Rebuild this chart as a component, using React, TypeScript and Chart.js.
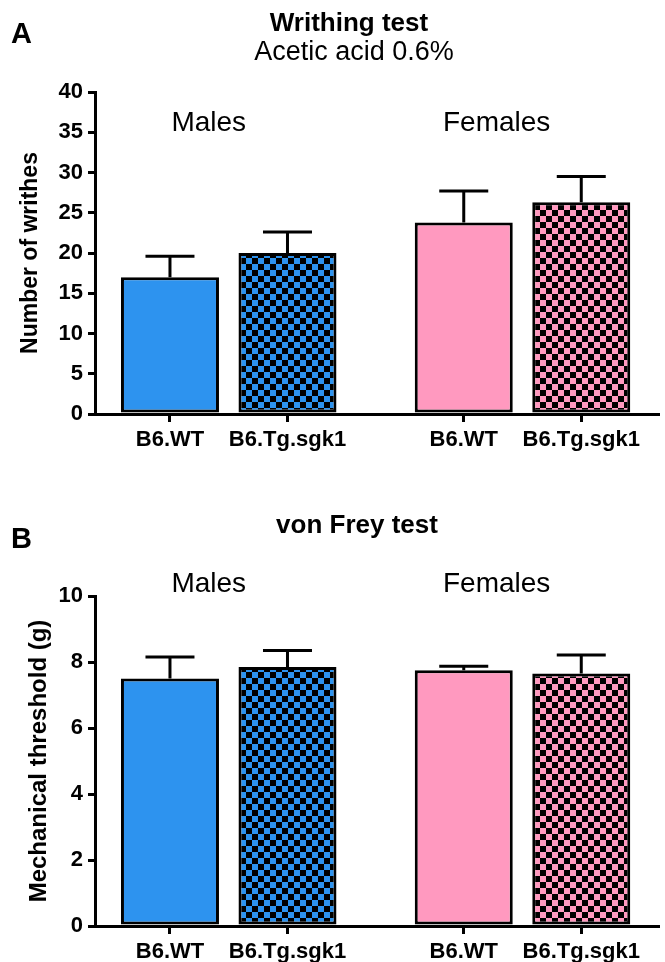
import React, { useEffect, useRef } from "react";
import { Chart, registerables } from "chart.js";

Chart.register(...registerables);

// ---------- data ----------
const categories = ["B6.WT", "B6.Tg.sgk1", "B6.WT", "B6.Tg.sgk1"];
const categoryX = [0, 1, 2.5, 3.5];
const groupLabels = ["Males", "Females"];
const groupLabelX = [0.33, 2.78];

const writhingMeans = [17.0, 20.0, 23.8, 26.3];
const writhingSem = [2.6, 2.6, 3.9, 3.2];
const writhingTicks = [0, 5, 10, 15, 20, 25, 30, 35, 40];

const vonFreyMeans = [7.5, 7.85, 7.75, 7.65];
const vonFreySem = [0.65, 0.5, 0.12, 0.56];
const vonFreyTicks = [0, 2, 4, 6, 8, 10];

const barColors = ["#2d93ef", "#2d93ef", "#ff99bf", "#ff99bf"];
const checkered = [false, true, false, true];

const FONT = "'Liberation Sans', Arial, Helvetica, sans-serif";

function makePattern(color: string) {
  const c = document.createElement("canvas");
  c.width = 12;
  c.height = 12;
  const g = c.getContext("2d")!;
  g.fillStyle = "#000";
  g.fillRect(0, 0, 12, 12);
  g.fillStyle = color;
  g.fillRect(0, 0, 6, 6);
  g.fillRect(6, 6, 6, 6);
  return g.createPattern(c, "repeat")!;
}

type PanelProps = {
  height: number;
  areaTop: number;
  areaBottom: number;
  means: number[];
  sem: number[];
  ticks: number[];
  yTitle: string;
  yTitleSize: number;
  yTitlePad: number;
  letter: string;
  letterBaseline: number;
  title: string;
  titleX: number;
  titleBaseline: number;
  subtitle?: string;
  subtitleBaseline?: number;
  groupBaseline: number;
};

function Panel(p: PanelProps) {
  const ref = useRef<HTMLCanvasElement | null>(null);
  useEffect(() => {
    const canvas = ref.current!;
    const bg = barColors.map((c, i) => (checkered[i] ? makePattern(c) : c));
    const xMin = -0.638;
    const xMax = 4.153;
    const yMax = p.ticks[p.ticks.length - 1];

    const errorBars = {
      id: "errorBars",
      afterDatasetsDraw(chart: any) {
        const ctx = chart.ctx;
        const y = chart.scales.y;
        const meta = chart.getDatasetMeta(0);
        ctx.save();
        ctx.strokeStyle = "#000";
        ctx.lineWidth = 3;
        meta.data.forEach((bar: any, i: number) => {
          const top = y.getPixelForValue(p.means[i] + p.sem[i]);
          ctx.beginPath();
          ctx.moveTo(bar.x, bar.y);
          ctx.lineTo(bar.x, top);
          ctx.moveTo(bar.x - 24.5, top);
          ctx.lineTo(bar.x + 24.5, top);
          ctx.stroke();
        });
        ctx.restore();
      },
    };

    const decor = {
      id: "decor",
      afterDraw(chart: any) {
        const ctx = chart.ctx;
        const x = chart.scales.x;
        ctx.save();
        ctx.fillStyle = "#000";
        ctx.textBaseline = "alphabetic";
        ctx.textAlign = "left";
        ctx.font = `bold 29px ${FONT}`;
        ctx.fillText(p.letter, 11, p.letterBaseline);
        ctx.textAlign = "center";
        ctx.font = `bold 26px ${FONT}`;
        ctx.fillText(p.title, p.titleX, p.titleBaseline);
        if (p.subtitle) {
          ctx.font = `27px ${FONT}`;
          ctx.fillText(p.subtitle, p.titleX + 5, p.subtitleBaseline!);
        }
        ctx.font = `28px ${FONT}`;
        groupLabels.forEach((g, i) => {
          ctx.fillText(g, x.getPixelForValue(groupLabelX[i]), p.groupBaseline);
        });
        ctx.restore();
      },
    };

    const chart = new Chart(canvas, {
      type: "bar",
      data: {
        datasets: [
          {
            data: categoryX.map((cx, i) => ({ x: cx, y: p.means[i] })),
            backgroundColor: bg as any,
            borderColor: "#000",
            borderWidth: 3,
            borderSkipped: false,
            categoryPercentage: 1,
            barPercentage: 0.834,
          } as any,
        ],
      },
      options: {
        responsive: false,
        animation: false,
        devicePixelRatio: 1,
        layout: { padding: { top: p.areaTop, right: 7, left: 0, bottom: 0 } },
        plugins: {
          legend: { display: false },
          tooltip: { enabled: false },
          title: { display: false },
        },
        scales: {
          x: {
            type: "linear",
            min: xMin,
            max: xMax,
            offset: false,
            afterFit(scale: any) {
              scale.height = p.height - p.areaBottom;
            },
            afterBuildTicks(scale: any) {
              scale.ticks = categoryX.map((v) => ({ value: v }));
            },
            grid: {
              offset: false,
              drawOnChartArea: false,
              drawTicks: true,
              tickLength: 8,
              color: "#000",
              lineWidth: 3,
            },
            border: { display: true, color: "#000", width: 3 },
            ticks: {
              autoSkip: false,
              maxRotation: 0,
              padding: 5,
              color: "#000",
              font: { family: FONT, size: 22, weight: "bold" },
              callback: (_v: any, i: number) => categories[i],
            },
          } as any,
          y: {
            min: 0,
            max: yMax,
            afterFit(scale: any) {
              scale.width = 95;
            },
            afterBuildTicks(scale: any) {
              scale.ticks = p.ticks.map((v) => ({ value: v }));
            },
            grid: {
              drawOnChartArea: false,
              drawTicks: true,
              tickLength: 7,
              color: "#000",
              lineWidth: 3,
            },
            border: { display: true, color: "#000", width: 3 },
            ticks: {
              padding: 5,
              color: "#000",
              font: { family: FONT, size: 22, weight: "bold" },
            },
            title: {
              display: true,
              text: p.yTitle,
              color: "#000",
              padding: { top: p.yTitlePad, bottom: 0 },
              font: { family: FONT, size: p.yTitleSize, weight: "bold" },
            },
          } as any,
        },
      },
      plugins: [errorBars, decor],
    });
    return () => chart.destroy();
  }, []);
  return (
    <canvas
      ref={ref}
      width={665}
      height={p.height}
      style={{ display: "block", width: 665, height: p.height }}
    />
  );
}

export default function App() {
  return (
    <div style={{ position: "absolute", top: 0, left: 0, width: 665, height: 962, background: "#fff" }}>
      <Panel
        height={480}
        areaTop={92}
        areaBottom={414}
        means={writhingMeans}
        sem={writhingSem}
        ticks={writhingTicks}
        yTitle="Number of writhes"
        yTitleSize={23}
        yTitlePad={17}
        letter="A"
        letterBaseline={43}
        title="Writhing test"
        titleX={349}
        titleBaseline={31}
        subtitle="Acetic acid 0.6%"
        subtitleBaseline={60}
        groupBaseline={131}
      />
      <Panel
        height={482}
        areaTop={116}
        areaBottom={446}
        means={vonFreyMeans}
        sem={vonFreySem}
        ticks={vonFreyTicks}
        yTitle="Mechanical threshold (g)"
        yTitleSize={24}
        yTitlePad={25}
        letter="B"
        letterBaseline={68}
        title="von Frey test"
        titleX={357}
        titleBaseline={53}
        groupBaseline={112}
      />
    </div>
  );
}
